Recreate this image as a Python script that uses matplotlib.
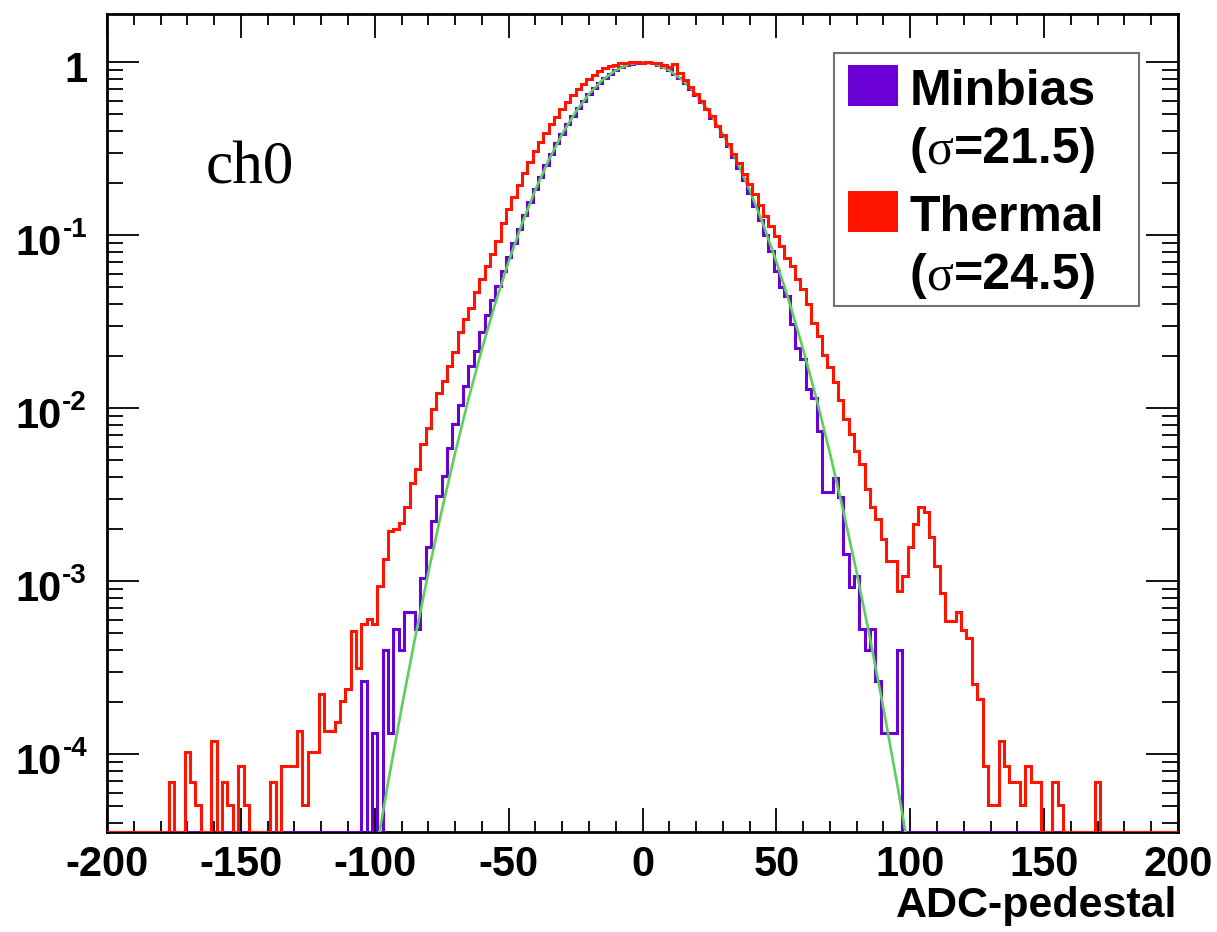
import numpy as np
import matplotlib
matplotlib.use("Agg")
import matplotlib.pyplot as plt
from matplotlib.patches import Rectangle
from matplotlib.ticker import LogLocator, MultipleLocator, NullFormatter
from matplotlib.transforms import offset_copy

W, H = 1217, 932

# histogram contents, 2-unit bins centred on even ADC values
minbias_first = -104
minbias = [
    2.65e-4, 0, 1.33e-4, 0, 4.0e-4, 1.33e-4, 5.3e-4, 4.0e-4, 6.6e-4, 6.6e-4,
    5.3e-4, 1.05e-3, 1.57e-3, 2.23e-3, 3.1e-3, 4.06e-3, 5.9e-3, 8.1e-3, 1.05e-2, 1.35e-2,
    0.0175, 0.0215, 0.0275, 0.0345, 0.042, 0.051, 0.062, 0.075, 0.090, 0.109,
    0.131, 0.156, 0.186, 0.218, 0.255, 0.296, 0.340, 0.387, 0.437, 0.489,
    0.543, 0.598, 0.654, 0.709, 0.762, 0.812, 0.858, 0.899, 0.934, 0.962,
    0.983, 0.996, 1.0, 0.997, 0.985, 0.963, 0.933, 0.897, 0.855, 0.808,
    0.757, 0.703, 0.647, 0.590, 0.534, 0.479, 0.426, 0.375, 0.328, 0.284,
    0.244, 0.208, 0.176, 0.147, 0.122, 0.100, 0.081, 0.0622, 0.0499, 0.0446,
    0.0306, 0.0224, 0.0192, 0.0129, 0.0115, 0.0074, 0.00326, 0.00326, 0.00397, 0.00305,
    0.00143, 9.2e-4, 1.07e-3, 5.3e-4, 4.0e-4, 5.3e-4, 2.65e-4, 1.33e-4, 1.33e-4, 1.33e-4,
    4.0e-4,
]

thermal_first = -176
thermal = [
    6.9e-5, 0, 0, 1.03e-4, 6.9e-5, 5.1e-5, 0, 0, 1.19e-4, 0,
    6.9e-5, 5.1e-5, 0, 8.6e-5, 5.1e-5, 0, 0, 0, 0, 6.9e-5,
    0, 8.6e-5, 8.6e-5, 8.6e-5, 1.36e-4, 5.1e-5, 1.03e-4, 1.03e-4, 2.22e-4, 1.36e-4,
    1.36e-4, 1.53e-4, 2.04e-4, 2.38e-4, 5.16e-4, 3.17e-4, 5.64e-4, 6.03e-4, 5.64e-4, 9.4e-4,
    1.34e-3, 1.95e-3, 2.0e-3, 2.18e-3, 2.67e-3, 3.72e-3, 4.43e-3, 6.19e-3, 7.73e-3, 9.87e-3,
    0.0123, 0.0144, 0.0176, 0.0210, 0.0274, 0.0327, 0.0382, 0.047, 0.0557, 0.0665,
    0.0776, 0.093, 0.1175, 0.141, 0.166, 0.195, 0.229, 0.266, 0.305, 0.347,
    0.389, 0.437, 0.484, 0.537, 0.589, 0.646, 0.700, 0.750, 0.800, 0.847,
    0.887, 0.920, 0.948, 0.970, 0.986, 0.993, 0.998, 1.0, 0.995, 1.0,
    0.995, 0.985, 0.97, 0.94, 0.975, 0.87, 0.79, 0.72, 0.655, 0.595,
    0.54, 0.49, 0.43, 0.38, 0.335, 0.295, 0.26, 0.226, 0.197, 0.172,
    0.150, 0.130, 0.1135, 0.099, 0.087, 0.074, 0.066, 0.0562, 0.049, 0.0398,
    0.0309, 0.0263, 0.0204, 0.0174, 0.0141, 0.0112, 0.0087, 0.0071, 5.67e-3, 4.75e-3,
    3.4e-3, 2.67e-3, 2.28e-3, 1.75e-3, 1.31e-3, 1.31e-3, 8.8e-4, 1.07e-3, 1.57e-3, 2.13e-3,
    2.67e-3, 2.5e-3, 1.79e-3, 1.23e-3, 8.6e-4, 5.9e-4, 5.9e-4, 6.6e-4, 5.2e-4, 4.7e-4,
    2.54e-4, 2.08e-4, 8.6e-5, 5.1e-5, 5.1e-5, 1.19e-4, 8.6e-5, 6.9e-5, 6.9e-5, 5.1e-5,
    8.6e-5, 6.9e-5, 6.9e-5, 0, 0, 6.9e-5, 5.1e-5, 0, 0, 0,
    0, 0, 0, 6.9e-5,
]

# gaussian fit to minbias
fit_x = list(range(-100, 101, 5))
fit_y = [
    2.45e-5, 6.88e-5, 1.84e-4, 4.66e-4, 1.12e-3, 2.55e-3, 5.50e-3, 1.13e-2, 2.19e-2, 4.03e-2,
    7.03e-2, 0.1165, 0.1829, 0.2723, 0.3846, 0.515, 0.654, 0.7875, 0.899, 0.974,
    1.0,
    0.974, 0.899, 0.7875, 0.654, 0.515, 0.3846, 0.2723, 0.1829, 0.1165, 7.03e-2,
    4.03e-2, 2.19e-2, 1.13e-2, 5.50e-3, 2.55e-3, 1.12e-3, 4.66e-4, 1.84e-4, 6.88e-5, 2.45e-5,
]

xticks = [-200, -150, -100, -50, 0, 50, 100, 150, 200]
xtick_labels = ["-200", "-150", "-100", "-50", "0", "50", "100", "150", "200"]
yticks = [1e-4, 1e-3, 1e-2, 1e-1, 1]
ytick_base = ["10", "10", "10", "10", "1"]
ytick_exp = ["-4", "-3", "-2", "-1", ""]

legend_names = ["Minbias", "Thermal"]
legend_sigmas = ["21.5", "24.5"]

YMIN, YMAX = 3.55e-5, 1.9
PURPLE = "#6a00d6"
RED = "#ff1400"
GREEN = "#5ccf5c"
SANS = ["Liberation Sans", "DejaVu Sans"]
SERIF = ["Liberation Serif", "DejaVu Serif"]

plt.rcParams["font.family"] = SANS
plt.rcParams["font.weight"] = "bold"


def full_hist(first, vals):
    centres = np.arange(-200, 201, 2)
    out = np.zeros(len(centres))
    i0 = (first + 200) // 2
    out[i0:i0 + len(vals)] = vals
    out[out <= 0] = YMIN  # empty bins lie on the frame, like ROOT
    return centres, out


def fx(px):
    return px / W


def fy(py):
    return 1 - py / H


fig = plt.figure(figsize=(W / 100, H / 100), dpi=100)
ax = fig.add_axes([fx(107), fy(832), (1178 - 107) / W, (832 - 14) / H])
renderer = fig.canvas.get_renderer()

centres, mb = full_hist(minbias_first, minbias)
_, th = full_hist(thermal_first, thermal)
edges = np.append(centres - 1, centres[-1] + 1)

ax.stairs(mb, edges, baseline=None, color=PURPLE, lw=2.2, zorder=3)
ax.plot(fit_x, fit_y, color=GREEN, lw=1.9, zorder=4)
ax.stairs(th, edges, baseline=None, color=RED, lw=2.2, zorder=5)

ax.set_xlim(-200, 200)
ax.set_yscale("log")
ax.set_ylim(YMIN, YMAX)
ax.set_xticks(xticks, xtick_labels)
ax.xaxis.set_minor_locator(MultipleLocator(10))
ax.set_yticks(yticks, [""] * len(yticks))
ax.yaxis.set_minor_locator(LogLocator(base=10, subs=np.arange(2, 10), numticks=20))
ax.yaxis.set_minor_formatter(NullFormatter())

ax.tick_params(which="both", direction="in", top=True, right=True, width=1.3, labelsize=30)
ax.tick_params(axis="x", which="major", length=17, pad=9)
ax.tick_params(axis="x", which="minor", length=8)
ax.tick_params(axis="y", which="major", length=23)
ax.tick_params(axis="y", which="minor", length=11.5)
for s in ax.spines.values():
    s.set_linewidth(2.0)

# y labels in ROOT style: "10" with a small raised exponent
ytrans = ax.get_yaxis_transform()
for val, base, exp in zip(yticks, ytick_base, ytick_exp):
    shift = 0
    if exp:
        te = ax.text(0, val, exp, ha="right", va="baseline", fontsize=20, fontweight="bold",
                     transform=offset_copy(ytrans, fig=fig, x=-20, y=-2, units="dots"))
        shift = te.get_window_extent(renderer).width + 1
    ax.text(0, val, base, ha="right", va="baseline", fontsize=30, fontweight="bold",
            transform=offset_copy(ytrans, fig=fig, x=-20 - shift, y=-19.5, units="dots"))

fig.text(fx(1177), fy(917), "ADC-pedestal", ha="right", va="baseline", fontsize=31, fontweight="bold")
fig.text(fx(206), fy(183), "ch0", ha="left", va="baseline", fontsize=44,
         family=SERIF, fontweight="normal")

# legend box, drawn by hand to get the ROOT look
fig.patches.append(Rectangle((fx(834), fy(306)), 305 / W, 253 / H, transform=fig.transFigure,
                             facecolor="white", edgecolor="#707070", lw=1.5, zorder=10))
for name, sig, colour, top in zip(legend_names, legend_sigmas, [PURPLE, RED], [65, 191]):
    fig.patches.append(Rectangle((fx(848), fy(top + 41)), 50 / W, 41 / H, transform=fig.transFigure,
                                 facecolor=colour, edgecolor="none", zorder=11))
    fig.text(fx(910), fy(top + 40), name, ha="left", va="baseline", fontsize=36,
             fontweight="bold", zorder=12)
    # "(" + symbol-font sigma + "=21.5)"
    x = 910
    for piece, fam, wt in [("(", SANS, "bold"), ("\u03c3", SERIF, "normal"), ("=" + sig + ")", SANS, "bold")]:
        t = fig.text(fx(x), fy(top + 98), piece, ha="left", va="baseline", fontsize=36,
                     family=fam, fontweight=wt, zorder=12)
        x += t.get_window_extent(renderer).width

fig.savefig("out.png", dpi=100)
